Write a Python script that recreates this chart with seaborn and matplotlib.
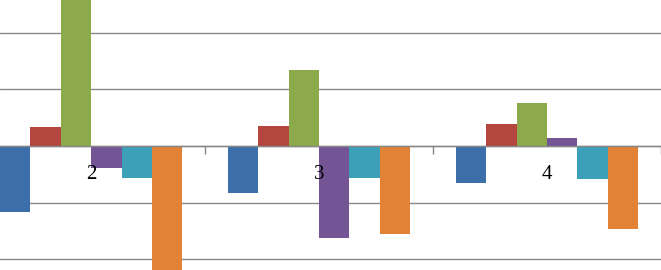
import matplotlib
matplotlib.use("Agg")
import matplotlib.pyplot as plt
import seaborn as sns
import pandas as pd
from matplotlib.ticker import FixedLocator

categories = ["2", "3", "4"]
series_names = ["Series 1", "Series 2", "Series 3", "Series 4", "Series 5", "Series 6"]
s1 = [-1.16, -0.83, -0.65]
s2 = [0.34, 0.35, 0.39]
s3 = [3.0, 1.35, 0.76]
s4 = [-0.38, -1.63, 0.15]
s5 = [-0.57, -0.56, -0.58]
s6 = [-2.6, -1.56, -1.46]
colors = ["#3C6EAA", "#B4453F", "#8CAA4B", "#735596", "#3CA0B9", "#E18237"]

rows = []
for name, vals in zip(series_names, [s1, s2, s3, s4, s5, s6]):
    for c, v in zip(categories, vals):
        rows.append({"cat": c, "series": name, "val": v})
df = pd.DataFrame(rows)

sns.set_theme(style="white")
plt.rcParams["font.family"] = ["Liberation Serif", "DejaVu Serif"]

fig = plt.figure(figsize=(6.61, 2.70), dpi=100)
ax = fig.add_axes([0, 0, 1, 1])
ax.set_axisbelow(True)
ax.yaxis.grid(True, color="#888888", linewidth=1.0)
ax.set_yticks([-2, -1, 0, 1, 2])
ax.tick_params(axis="y", left=False, labelleft=False)

sns.barplot(data=df, x="cat", y="val", hue="series", order=categories,
            hue_order=series_names, palette=colors, saturation=1, width=0.8,
            errorbar=None, legend=False, linewidth=0, ax=ax)

ax.set_xlim(-0.4, 2.5)
ax.set_ylim(-2.19, 2.58)
for s in ["top", "left", "right"]:
    ax.spines[s].set_visible(False)
ax.spines["bottom"].set_position(("data", 0))
ax.spines["bottom"].set_color("#888888")
ax.spines["bottom"].set_linewidth(1.0)
ax.spines["bottom"].set_zorder(5)

ax.xaxis.set_major_locator(FixedLocator([0.5, 1.5, 2.5]))
ax.xaxis.set_minor_locator(FixedLocator([0, 1, 2]))
ax.set_xticklabels([], minor=False)
ax.set_xticklabels(categories, minor=True)
ax.tick_params(axis="x", which="major", bottom=True, direction="out", length=6,
               width=1, color="#888888", labelbottom=False)
ax.tick_params(axis="x", which="minor", bottom=True, length=0, pad=14,
               labelsize=15, labelcolor="black")
ax.xaxis.set_zorder(6)
ax.yaxis.set_zorder(0.5)
ax.set_xlabel("")
ax.set_ylabel("")

fig.savefig("out.png", dpi=100)
